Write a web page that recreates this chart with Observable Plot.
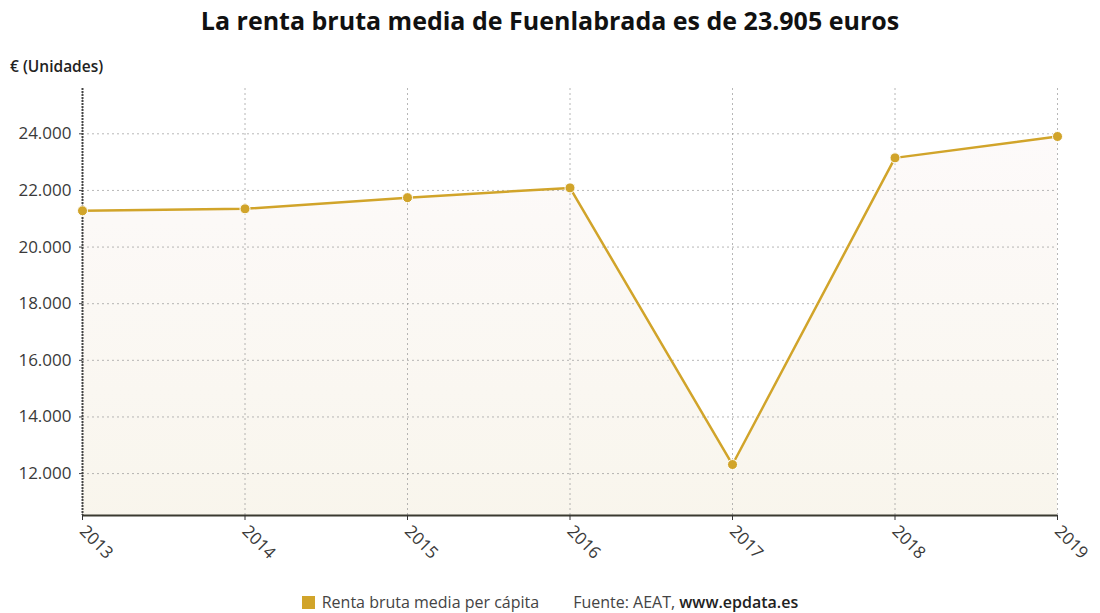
<!DOCTYPE html>
<html>
<head>
<meta charset="utf-8">
<script src="https://cdn.jsdelivr.net/npm/d3@7"></script>
<script src="https://cdn.jsdelivr.net/npm/@observablehq/plot@0.6"></script>
<style>
  html, body { margin: 0; padding: 0; background: #fff; }
  body { width: 1100px; height: 613px; position: relative; overflow: hidden; font-family: "Open Sans", sans-serif; }
  #title { position: absolute; top: 3px; left: 0; width: 1100px; text-align: center; font-size: 25px; font-weight: 700; color: #111; }
  #unit { position: absolute; top: 55px; left: 10px; font-size: 15.5px; font-weight: 600; color: #222; }
  #chart { position: absolute; top: 45px; left: 0; }
  #legend { position: absolute; top: 591px; left: 0; width: 1100px; text-align: center; font-size: 16px; color: #444; }
  #legend .sw { display: inline-block; width: 13px; height: 13px; background: #d1a42a; margin-right: 7px; vertical-align: -1px; }
  #legend .src { margin-left: 34px; }
  #legend b { font-weight: 600; color: #222; }
</style>
</head>
<body>
<div id="title">La renta bruta media de Fuenlabrada es de 23.905 euros</div>
<div id="unit">€ (Unidades)</div>
<div id="chart"></div>
<div id="legend"><span class="sw"></span>Renta bruta media per cápita<span class="src">Fuente: AEAT, <b>www.epdata.es</b></span></div>
<script>
const years = [2013, 2014, 2015, 2016, 2017, 2018, 2019];
const values = [21282, 21350, 21745, 22090, 12320, 23150, 23905];
const yTicks = [12000, 14000, 16000, 18000, 20000, 22000, 24000];
const yDomain = [10520, 25600];
const seriesName = "Renta bruta media per cápita";
const lineColor = "#d1a42a";

const data = years.map((y, i) => ({year: y, value: values[i], series: seriesName}));
const fmt = d => d3.format(",")(d).replace(/,/g, ".");

const defs = () => {
  const svg = d3.create("svg:defs");
  const g = svg.append("linearGradient").attr("id", "areaGrad").attr("x1", 0).attr("y1", 1).attr("x2", 0).attr("y2", 0);
  g.append("stop").attr("offset", "0%").attr("stop-color", "#f6f0e1");
  g.append("stop").attr("offset", "50%").attr("stop-color", "#f9f6ee");
  g.append("stop").attr("offset", "100%").attr("stop-color", "#fdfafa");
  return svg.node();
};

const chart = Plot.plot({
  width: 1100,
  height: 530,
  marginLeft: 82,
  marginRight: 43,
  marginTop: 43,
  marginBottom: 60,
  style: {fontFamily: "Open Sans, sans-serif", fontSize: "17px", color: "#3a3a3a", background: "transparent"},
  x: {domain: [2013, 2019], label: null},
  y: {domain: yDomain, label: null},
  marks: [
    defs,
    Plot.areaY(data, {x: "year", y: "value", fill: "url(#areaGrad)", clip: true}),
    Plot.gridY({ticks: yTicks, stroke: "#999", strokeOpacity: 0.7, strokeDasharray: "2,3"}),
    Plot.gridX({ticks: years, stroke: "#999", strokeOpacity: 0.7, strokeDasharray: "2,3"}),
    Plot.ruleX([2013], {stroke: "#444", strokeWidth: 2, strokeDasharray: "2,1"}),
    Plot.ruleY([yDomain[0]], {stroke: "#3a3a30", strokeWidth: 2}),
    Plot.axisY({ticks: yTicks, tickFormat: fmt, tickSize: 3, tickPadding: 8, fontSize: 17, stroke: "#444"}),
    Plot.axisX({ticks: years, tickFormat: d => String(d), tickSize: 5, tickPadding: 8, tickRotate: 45, fontSize: 17, stroke: "#333"}),
    Plot.line(data, {x: "year", y: "value", stroke: lineColor, strokeWidth: 2.5}),
    Plot.dot(data, {x: "year", y: "value", fill: lineColor, r: 5, stroke: "#fff", strokeWidth: 1})
  ]
});
document.getElementById("chart").appendChild(chart);
</script>
</body>
</html>
